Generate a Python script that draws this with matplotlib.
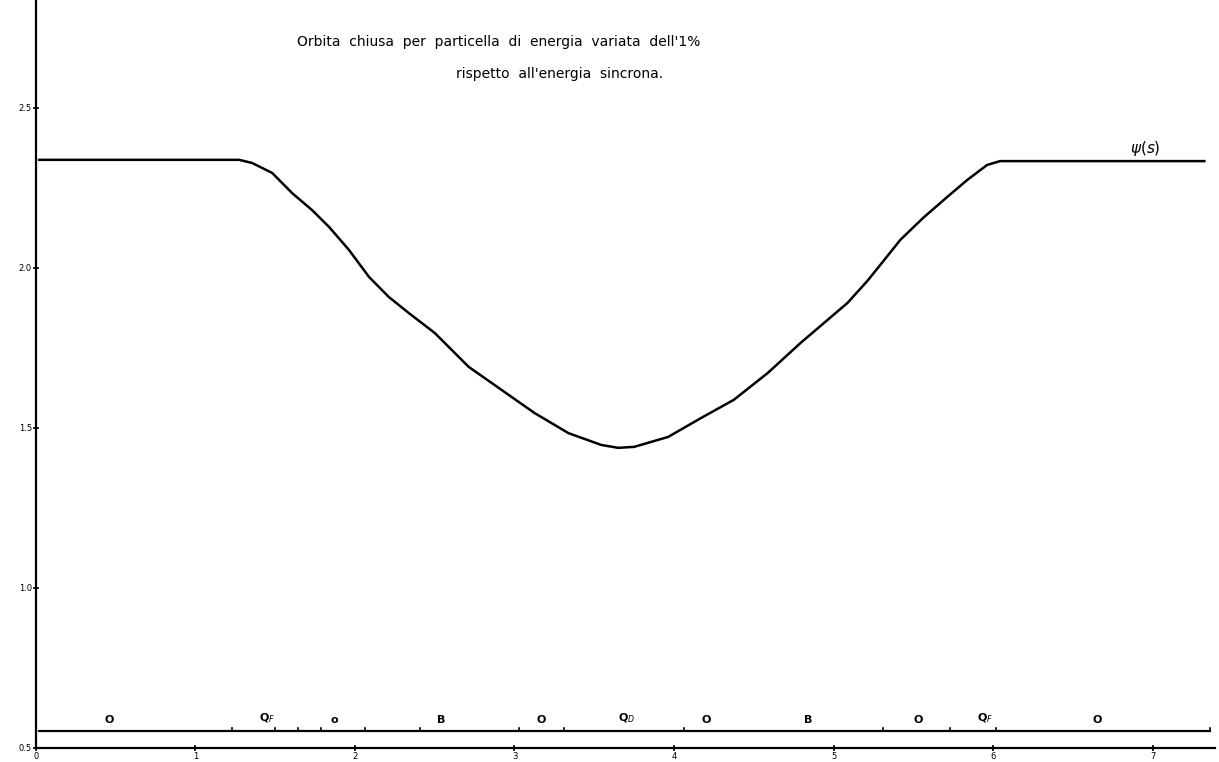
import numpy as np
import matplotlib.pyplot as plt

# closed orbit psi(s)
s = [0.02, 1.275, 1.356, 1.481, 1.606, 1.731, 1.838, 1.963, 2.088, 2.213, 2.338,
     2.5, 2.713, 2.919, 3.125, 3.338, 3.544, 3.65, 3.75, 3.963, 4.169, 4.375,
     4.588, 4.794, 5.088, 5.213, 5.294, 5.419, 5.563, 5.713, 5.838, 5.963,
     6.044, 7.325]
psi = [2.338, 2.338, 2.328, 2.297, 2.234, 2.181, 2.128, 2.056, 1.972, 1.909, 1.859,
       1.797, 1.691, 1.619, 1.547, 1.484, 1.447, 1.438, 1.441, 1.472, 1.531, 1.588,
       1.672, 1.766, 1.891, 1.960, 2.010, 2.088, 2.157, 2.222, 2.275, 2.322,
       2.334, 2.334]

# lattice elements drawn along the bottom
elem_names = ['O', r'Q$_F$', 'o', 'B', 'O', r'Q$_D$', 'O', 'B', 'O', r'Q$_F$', 'O']
elem_pos = [0.46, 1.45, 1.87, 2.54, 3.17, 3.70, 4.20, 4.84, 5.53, 5.95, 6.65]
elem_edges = [1.23, 1.50, 1.64, 1.79, 2.06, 2.41, 3.03, 3.31, 4.06, 5.31, 5.73, 6.02, 7.36]

yticks = [0.5, 1.0, 1.5, 2.0, 2.5]
ytick_labels = ['0.5', '1.0', '1.5', '2.0', '2.5']
xticks = [0, 1, 2, 3, 4, 5, 6, 7]

fig = plt.figure(figsize=(12.19, 7.62), dpi=100)
ax = fig.add_axes([0.0295, 0.0184, 0.967, 0.9816])

ax.plot(s, psi, color='black', lw=1.8)
ax.text(6.86, 2.345, r'$\psi(s)$', fontsize=11, ha='left', va='bottom')

# element line
line_y = 0.553
ax.plot([0.02, 7.36], [line_y, line_y], color='black', lw=1.6)
for e in elem_edges:
    ax.plot([e, e], [line_y, line_y + 0.008], color='black', lw=1.2)
for name, p in zip(elem_names, elem_pos):
    ax.text(p, line_y + 0.02, name, fontsize=8, fontweight='bold',
            ha='center', va='bottom')

fig.text(0.409, 0.945, "Orbita  chiusa  per  particella  di  energia  variata  dell'1%",
         fontsize=10, ha='center', va='center')
fig.text(0.459, 0.903, "rispetto  all'energia  sincrona.",
         fontsize=10, ha='center', va='center')

ax.set_xlim(0.02, 7.39)
ax.set_ylim(0.5, 2.8375)
ax.set_yticks(yticks)
ax.set_yticklabels(ytick_labels)
ax.set_xticks(xticks)
ax.tick_params(axis='both', labelsize=6, length=4, width=1.2, direction='inout', pad=1)
ax.spines['top'].set_visible(False)
ax.spines['right'].set_visible(False)
ax.spines['left'].set_linewidth(1.6)
ax.spines['bottom'].set_linewidth(1.6)

plt.savefig('out.png', dpi=100)
